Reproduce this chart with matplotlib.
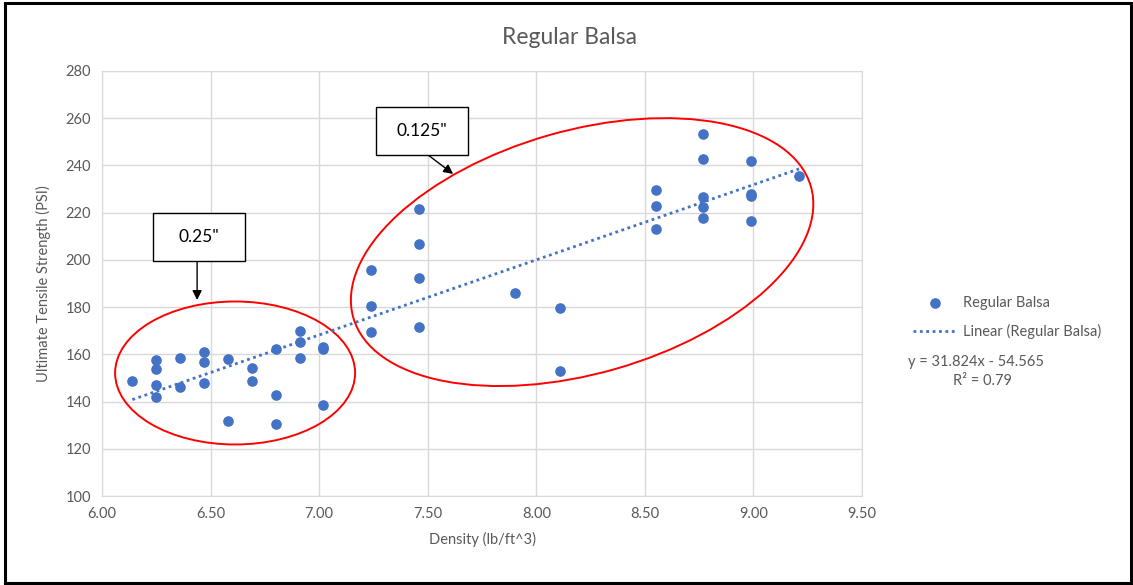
import matplotlib
matplotlib.use('Agg')
import matplotlib.pyplot as plt
from matplotlib.patches import Ellipse, Rectangle
from matplotlib.transforms import ScaledTranslation

plt.rcParams['font.family'] = ['Lato', 'DejaVu Sans']

# readings
density = [6.14,
           6.25, 6.25, 6.25, 6.25,
           6.36, 6.36,
           6.47, 6.47, 6.47,
           6.58, 6.58,
           6.69, 6.69,
           6.80, 6.80, 6.80,
           6.91, 6.91, 6.91,
           7.02, 7.02, 7.02,
           7.24, 7.24, 7.24,
           7.46, 7.46, 7.46, 7.46,
           7.90,
           8.11, 8.11,
           8.55, 8.55, 8.55,
           8.77, 8.77, 8.77, 8.77, 8.77,
           8.99, 8.99, 8.99, 8.99,
           9.21]
strength = [148.8,
            157.6, 153.7, 147.0, 142.1,
            158.6, 146.3,
            161.0, 156.7, 147.7,
            157.9, 131.8,
            154.3, 148.8,
            162.3, 142.6, 130.4,
            169.7, 165.1, 158.4,
            163.0, 162.2, 138.4,
            195.8, 180.6, 169.5,
            221.4, 206.9, 192.2, 171.4,
            186.1,
            179.5, 153.1,
            229.6, 222.7, 213.2,
            253.3, 242.9, 226.5, 222.3, 217.9,
            241.8, 227.8, 227.0, 216.6,
            235.4]

slope, intercept = 31.824, -54.565
r2 = 0.79

xticks = [6.00, 6.50, 7.00, 7.50, 8.00, 8.50, 9.00, 9.50]
yticks = [100, 120, 140, 160, 180, 200, 220, 240, 260, 280]

blue = '#4472C4'
gray = '#595959'
grid = '#d9d9d9'

fig = plt.figure(figsize=(11.33, 5.85), dpi=100)
ax = fig.add_axes([102 / 1133, 89 / 585, 760 / 1133, 425 / 585])

ax.scatter(density, strength, s=44, color=blue, zorder=3, label='Regular Balsa')
xs = [min(density), max(density)]
ax.plot(xs, [slope * v + intercept for v in xs], color=blue, lw=2,
        linestyle=(0, (1, 1.3)), zorder=2, label='Linear (Regular Balsa)')

ax.set_xlim(6.0, 9.5)
ax.set_ylim(100, 280)
ax.set_xticks(xticks)
ax.set_yticks(yticks)
ax.set_xticklabels(['%.2f' % t for t in xticks])
ax.grid(True, color=grid, lw=1)
ax.set_axisbelow(True)
for s in ax.spines.values():
    s.set_color(grid)
ax.tick_params(length=0, labelsize=10.5, colors=gray, pad=8)

fig.text(570 / 1133, 1 - 37 / 585, 'Regular Balsa', fontsize=16.5, color=gray,
         ha='center', va='center')
ax.set_xlabel('Density (lb/ft^3)', fontsize=10.5, color=gray, labelpad=8)
ax.set_ylabel('Ultimate Tensile Strength (PSI)', fontsize=10.5, color=gray, labelpad=10)


def px_at(x, y):
    # place things sized in pixels around a data point
    return fig.dpi_scale_trans + ScaledTranslation(x, y, ax.transData)


# red rings round the two groups
ax.add_patch(Ellipse((0, 0), 2.40, 1.43, angle=0, fill=False, ec='red', lw=1.4,
                     transform=px_at(6.613, 152.1), clip_on=False))
ax.add_patch(Ellipse((0, 0), 4.76, 2.43, angle=16, fill=False, ec='red', lw=1.4,
                     transform=px_at(8.211, 203.3), clip_on=False))


def callout(label, cx, cy, tail, tip):
    ax.add_patch(Rectangle((-0.46, -0.24), 0.92, 0.48, fc='white', ec='black',
                           lw=1, transform=px_at(cx, cy), clip_on=False, zorder=5))
    ax.text(cx, cy, label, ha='center', va='center', fontsize=12.5, zorder=6)
    ax.annotate('', xy=tip, xytext=tail,
                arrowprops=dict(arrowstyle='-|>', color='black', lw=1,
                                mutation_scale=14, shrinkA=0, shrinkB=0))


callout('0.25"', 6.447, 209.7, (6.438, 199.5), (6.438, 183.0))
callout('0.125"', 7.472, 254.4, (7.502, 244.4), (7.617, 236.4))

ax.legend(loc='upper left', bbox_to_anchor=(900 / 1133, 1 - 283 / 585),
          bbox_transform=fig.transFigure, frameon=False, fontsize=10.5,
          labelcolor=gray, handlelength=3.0, handletextpad=0.45, labelspacing=0.95)
fig.text(908 / 1133, 1 - 362 / 585, 'y = %.3fx - %.3f' % (slope, -intercept),
         fontsize=10.5, color=gray, va='center')
fig.text(982 / 1133, 1 - 381 / 585, 'R² = %.2f' % r2,
         fontsize=10.5, color=gray, va='center', ha='center')

# outer frame of the pasted picture
fig.add_artist(Rectangle((5 / 1133, 2 / 585), 1126 / 1133, 580 / 585,
                         fill=False, ec='black', lw=2.2, transform=fig.transFigure))

fig.savefig('out.png', dpi=100)
